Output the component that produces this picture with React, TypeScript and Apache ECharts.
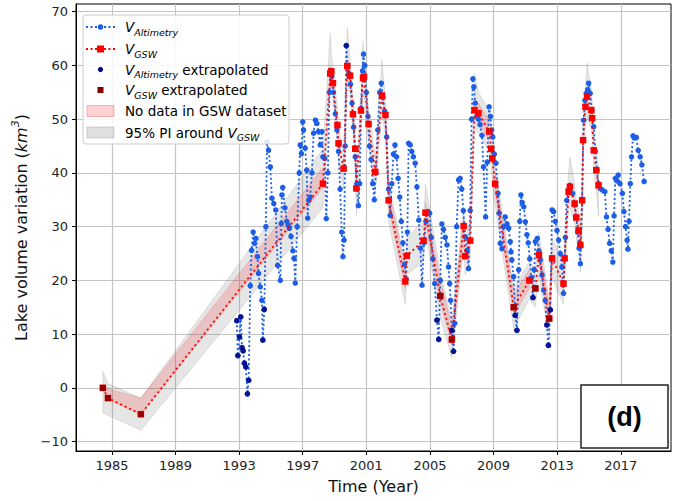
import React, { useEffect, useRef } from "react";
import * as echarts from "echarts";

// ---- Axis ticks ----
const xTicks = [1985, 1989, 1993, 1997, 2001, 2005, 2009, 2013, 2017];
const yTicks = [-10, 0, 10, 20, 30, 40, 50, 60, 70];

// ---- V_Altimetry (blue) ----
const altYears = [
  1992.85, 1992.92, 1993.02, 1993.1, 1993.18, 1993.25, 1993.33, 1993.42, 1993.52, 1993.6,
  1993.7, 1993.78, 1993.88, 1993.97, 1994.05, 1994.15, 1994.22, 1994.33, 1994.43, 1994.49,
  1994.58, 1994.68, 1994.75, 1994.85, 1994.96, 1995.06, 1995.18, 1995.3, 1995.42, 1995.59,
  1995.65, 1995.69, 1995.74, 1995.88, 1996.0, 1996.08, 1996.16, 1996.26, 1996.38, 1996.45,
  1996.53, 1996.65, 1996.78, 1996.84, 1996.92, 1997.0, 1997.05, 1997.15, 1997.25, 1997.31,
  1997.38, 1997.46, 1997.58, 1997.68, 1997.8, 1997.89, 1997.99, 1998.1, 1998.21, 1998.27,
  1998.38, 1998.48, 1998.58, 1998.68, 1998.75, 1998.83, 1998.93, 1999.05, 1999.15, 1999.25,
  1999.35, 1999.45, 1999.53, 1999.6, 1999.67, 1999.74, 1999.82, 1999.9, 2000.0, 2000.1,
  2000.2, 2000.3, 2000.4, 2000.5, 2000.58, 2000.67, 2000.76, 2000.82, 2000.9, 2001.0,
  2001.1, 2001.2, 2001.3, 2001.4, 2001.5, 2001.6, 2001.72, 2001.84, 2001.94, 2002.04,
  2002.15, 2002.28, 2002.4, 2002.5, 2002.6, 2002.7, 2002.8, 2002.9, 2003.0, 2003.1,
  2003.2, 2003.3, 2003.4, 2003.5, 2003.58, 2003.66, 2003.76, 2003.86, 2003.96, 2004.07,
  2004.18, 2004.3, 2004.4, 2004.5, 2004.62, 2004.75, 2004.88, 2004.98, 2005.08, 2005.18,
  2005.3, 2005.44, 2005.55, 2005.65, 2005.75, 2005.85, 2005.96, 2006.07, 2006.17, 2006.24,
  2006.3, 2006.38, 2006.48, 2006.56, 2006.68, 2006.8, 2006.9, 2007.0, 2007.1, 2007.22,
  2007.33, 2007.43, 2007.53, 2007.62, 2007.7, 2007.76, 2007.85, 2007.95, 2008.05, 2008.15,
  2008.27, 2008.37, 2008.5, 2008.6, 2008.72, 2008.8, 2008.88, 2008.95, 2009.05, 2009.15,
  2009.28, 2009.35, 2009.42, 2009.53, 2009.63, 2009.73, 2009.85, 2009.95, 2010.05, 2010.1,
  2010.15, 2010.26, 2010.36, 2010.47, 2010.58, 2010.65, 2010.72, 2010.8, 2010.9, 2011.0,
  2011.1, 2011.18, 2011.28, 2011.38, 2011.48, 2011.56, 2011.63, 2011.75, 2011.85, 2011.94,
  2012.05, 2012.15, 2012.25, 2012.35, 2012.45, 2012.57, 2012.68, 2012.78, 2012.88, 2012.99,
  2013.09, 2013.2, 2013.3, 2013.4, 2013.52, 2013.6, 2013.72, 2013.8, 2013.97, 2014.1,
  2014.2, 2014.3, 2014.38, 2014.46, 2014.57, 2014.66, 2014.75, 2014.83, 2014.92, 2014.98,
  2015.08, 2015.18, 2015.3, 2015.4, 2015.5, 2015.6, 2015.7, 2015.85, 2016.0, 2016.1,
  2016.2, 2016.3, 2016.4, 2016.5, 2016.58, 2016.66, 2016.76, 2016.84, 2016.95, 2017.1,
  2017.2, 2017.3, 2017.4, 2017.45, 2017.52, 2017.6, 2017.68, 2017.77, 2017.85, 2017.98,
  2018.1, 2018.22, 2018.33, 2018.47,
];
const altValues = [
  12.5, 6.0, 9.5, 13.2, 7.5, 6.9, 4.6, 3.9, -1.1, 1.4,
  19.0, 25.6, 29.0, 26.9, 27.8, 24.4, 21.3, 18.8, 16.3, 8.9,
  14.6, 30.0, 45.8, 44.2, 41.1, 35.3, 34.3, 33.1, 22.8, 20.0,
  30.6, 35.9, 37.3, 33.5, 31.0, 30.3, 29.7, 28.2, 25.5, 24.1,
  19.5, 30.0, 40.0, 45.2, 43.6, 49.5, 48.0, 44.6, 40.5, 31.6,
  34.9, 35.5, 40.0, 47.4, 49.8, 49.2, 47.7, 45.2, 47.7, 43.0,
  42.7, 31.5, 40.0, 55.0, 59.1, 58.0, 55.0, 51.0, 48.0, 44.0,
  37.0, 29.0, 24.4, 27.5, 45.0, 63.7, 60.0, 58.5, 56.5, 53.0,
  48.5, 43.0, 38.0, 33.9, 38.0, 52.0, 59.0, 62.1, 60.0, 55.0,
  50.5, 45.0, 42.5, 38.0, 35.0, 40.0, 48.0, 55.0, 56.7, 54.0,
  51.5, 46.7, 37.0, 32.1, 38.0, 43.5, 45.2, 43.0, 39.0, 35.5,
  31.0, 27.0, 23.0, 20.3, 29.0, 45.5, 45.2, 44.0, 43.0, 41.8,
  37.4, 31.2, 26.0, 19.1, 27.0, 31.0, 32.8, 32.5, 28.0, 24.0,
  19.4, 12.6, 9.0, 20.0, 30.5, 29.5, 28.0, 26.6, 22.5, 19.4,
  16.3, 10.7, 6.8, 12.0, 30.0, 38.7, 39.0, 37.0, 33.0, 28.1,
  25.6, 22.2, 33.0, 50.0, 57.5, 56.0, 53.0, 50.5, 50.0, 49.0,
  47.0, 41.1, 31.8, 42.0, 52.3, 50.5, 48.0, 46.7, 43.5, 41.8,
  36.2, 32.5, 26.9, 25.9, 30.0, 31.8, 30.5, 29.7, 27.2, 25.3,
  23.8, 20.7, 13.5, 10.7, 22.0, 31.0, 35.9, 34.5, 33.7, 30.9,
  28.5, 27.0, 24.0, 20.5, 16.8, 22.0, 27.2, 27.8, 25.5, 23.8,
  21.0, 18.2, 16.3, 11.7, 7.9, 14.5, 33.1, 32.8, 31.0, 29.3,
  27.5, 25.0, 22.5, 17.6, 28.0, 34.9, 36.8, 37.7, 36.2, 34.0,
  31.8, 29.0, 26.0, 23.1, 34.9, 49.8, 53.5, 54.8, 55.5, 56.7,
  54.8, 51.5, 48.6, 44.0, 40.5, 38.0, 37.1, 36.8, 36.5, 31.8,
  29.5, 26.9, 25.5, 23.4, 32.0, 39.0, 38.5, 39.6, 38.0, 36.2,
  32.8, 30.0, 27.5, 25.8, 31.0, 38.0, 43.0, 46.9, 46.5, 46.6,
  44.2, 43.0, 41.5, 38.4,
];

// ---- V_Altimetry extrapolated (navy) ----
const altExtYears = [
  1992.85, 1992.92, 1993.02, 1993.1, 1993.18, 1993.25, 1993.33, 1993.42, 1993.52, 1993.6,
  1994.49, 1994.58, 1999.74, 2005.44, 2005.55, 2006.38, 2006.48, 2010.36, 2010.47, 2011.48,
  2012.35, 2012.45, 2012.57,
];
const altExtValues = [
  12.5, 6.0, 9.5, 13.2, 7.5, 6.9, 4.6, 3.9, -1.1, 1.4,
  8.9, 14.6, 63.7, 12.6, 9.0, 10.7, 6.8, 13.5, 10.7, 16.8,
  11.7, 7.9, 14.5,
];

// ---- V_GSW (red) ----
const gswYears = [
  1984.43, 1984.75, 1986.82, 1998.27, 1998.73, 1998.8, 1998.9, 1999.18, 1999.25, 1999.57,
  1999.8, 1999.98, 2000.16, 2000.3, 2000.37, 2000.66, 2000.79, 2000.85, 2001.14, 2001.56,
  2001.98, 2002.2, 2002.4, 2003.45, 2003.55, 2004.6, 2004.72, 2005.65, 2006.38, 2007.12,
  2007.22, 2007.53, 2007.8, 2008.05, 2008.73, 2008.85, 2008.92, 2009.1, 2010.27, 2011.25,
  2011.63, 2011.85, 2012.5, 2012.68, 2013.4, 2013.47, 2013.72, 2013.8, 2014.1, 2014.2,
  2014.35, 2014.46, 2014.57, 2014.63, 2014.78, 2014.88, 2015.15, 2015.2, 2015.3, 2015.46,
  2015.6,
];
const gswValues = [
  0.0, -1.9, -4.9, 38.0, 58.5, 58.9, 56.7, 48.9, 45.5, 40.8,
  59.9, 58.1, 50.9, 44.5, 37.1, 51.6, 57.7, 57.9, 49.1, 40.2,
  54.4, 50.8, 34.9, 19.8, 24.6, 27.4, 32.6, 17.1, 9.0, 30.1,
  24.5, 27.4, 51.7, 51.1, 47.7, 44.5, 42.7, 38.0, 15.0, 20.0,
  18.5, 24.7, 12.9, 24.1, 19.4, 24.1, 36.5, 37.4, 34.3, 31.7,
  29.3, 26.6, 34.9, 46.1, 52.3, 54.2, 51.7, 50.2, 44.2, 40.5,
  37.7,
];

// ---- 95% PI around V_GSW (grey band), at the GSW dates ----
const piLow = [
  -4.7, -5.1, -7.9, 33.5, 55.0, 56.0, 53.5, 45.5, 42.0, 37.0,
  56.5, 55.0, 47.5, 41.0, 32.0, 48.0, 54.0, 54.5, 45.5, 36.5,
  51.0, 47.0, 31.0, 15.5, 21.0, 23.5, 29.0, 13.0, 5.5, 26.5,
  21.0, 24.0, 48.0, 47.5, 44.0, 41.0, 39.0, 34.0, 11.0, 16.5,
  15.0, 21.0, 9.0, 20.5, 15.5, 20.5, 33.0, 33.5, 30.5, 28.0,
  25.5, 21.5, 31.0, 42.5, 48.5, 50.5, 48.0, 46.5, 40.5, 36.5,
  32.0,
];
const piHigh = [
  3.1, 0.8, -1.9, 44.5, 66.0, 62.0, 60.0, 52.0, 48.5, 44.0,
  67.0, 61.0, 54.0, 47.5, 40.0, 55.0, 64.5, 61.0, 52.0, 43.0,
  61.0, 54.0, 38.5, 23.0, 28.0, 31.0, 38.0, 21.5, 12.5, 33.5,
  28.0, 31.0, 58.5, 55.0, 51.5, 48.0, 46.5, 41.5, 18.5, 23.5,
  22.0, 29.0, 16.5, 28.0, 23.0, 28.0, 40.0, 43.0, 38.0, 35.0,
  33.0, 30.0, 38.5, 49.5, 56.0, 60.5, 55.5, 53.5, 47.5, 44.0,
  41.0,
];

// ---- V_GSW extrapolated (dark red) ----
const gswExtYears = [1984.43, 1984.75, 1986.82, 2005.65, 2006.38, 2010.27, 2011.63, 2012.5];
const gswExtValues = [0.0, -1.9, -4.9, 17.1, 9.0, 15.0, 18.5, 12.9];

// ---- No data in GSW dataset (pink band segments) ----
const noDataYears = [
  [1984.43, 1984.75, 1986.82, 1998.27],
  [2002.4, 2003.45],
  [2004.72, 2005.65, 2006.38, 2007.12],
  [2008.05, 2008.73],
  [2009.1, 2010.27, 2011.25],
  [2011.85, 2012.5, 2012.68],
];
const noDataLow = [
  [-0.3, -2.2, -5.0, 37.3],
  [33.5, 18.5],
  [31.0, 16.0, 8.0, 28.5],
  [49.5, 46.0],
  [36.5, 13.5, 18.5],
  [23.0, 11.5, 22.5],
];
const noDataHigh = [
  [0.6, -0.2, -1.9, 41.0],
  [37.0, 22.0],
  [34.5, 20.0, 11.5, 32.0],
  [53.0, 49.5],
  [40.0, 17.5, 22.0],
  [27.0, 15.0, 26.0],
];

const BLUE = "#1c5ee6";
const NAVY = "#000080";
const RED = "#ff0000";
const DARKRED = "#800000";
const FONT = "DejaVu Sans";

const zip = (xs: number[], ys: number[]) => xs.map((x, i) => [x, ys[i]]);

export default function App() {
  const ref = useRef<HTMLDivElement>(null);

  useEffect(() => {
    if (!ref.current) return;
    const chart = echarts.init(ref.current, undefined, { renderer: "svg" });

    const greyBand = {
      type: "custom",
      coordinateSystem: "cartesian2d",
      silent: true,
      z: 1,
      clip: true,
      encode: { x: 0, y: [1, 2] },
      data: gswYears.map((x, i) => [x, piLow[i], piHigh[i]]),
      renderItem: (params: any, api: any) => {
        if (params.dataIndex !== 0) return null;
        const pts: number[][] = [];
        for (let i = 0; i < gswYears.length; i++) pts.push(api.coord([gswYears[i], piHigh[i]]));
        for (let i = gswYears.length - 1; i >= 0; i--) pts.push(api.coord([gswYears[i], piLow[i]]));
        return {
          type: "polygon",
          shape: { points: pts },
          style: { fill: "rgba(128,128,128,0.2)", stroke: "rgba(128,128,128,0.25)", lineWidth: 0.8 },
        };
      },
    };

    const pinkBand = {
      type: "custom",
      coordinateSystem: "cartesian2d",
      silent: true,
      z: 2,
      clip: true,
      encode: { x: 0, y: [1, 2] },
      data: noDataYears.map((seg, k) => [seg[0], noDataLow[k][0], noDataHigh[k][0]]),
      renderItem: (params: any, api: any) => {
        const k = params.dataIndex;
        const xs = noDataYears[k];
        const pts: number[][] = [];
        for (let i = 0; i < xs.length; i++) pts.push(api.coord([xs[i], noDataHigh[k][i]]));
        for (let i = xs.length - 1; i >= 0; i--) pts.push(api.coord([xs[i], noDataLow[k][i]]));
        return {
          type: "polygon",
          shape: { points: pts },
          style: { fill: "rgba(255,0,0,0.15)", stroke: "rgba(255,0,0,0.2)", lineWidth: 0.8 },
        };
      },
    };

    const legendX = 83;
    const legendY = 15;
    const rowY = [27, 49, 69.5, 90, 111, 132.5];
    const txtX = 125;
    const legFont = 13.5;
    const rich = {
      v: { fontFamily: FONT, fontSize: legFont, fontStyle: "italic", fill: "#000", lineHeight: 20, verticalAlign: "middle" },
      s: { fontFamily: FONT, fontSize: 9.5, fontStyle: "italic", fill: "#000", lineHeight: 10, verticalAlign: "bottom" },
      n: { fontFamily: FONT, fontSize: legFont, fill: "#000", lineHeight: 20, verticalAlign: "middle" },
    };
    const legText = (y: number, text: string) => ({
      type: "text",
      x: txtX,
      y,
      z: 101,
      style: { text, rich, fill: "#000", verticalAlign: "middle", align: "left", font: `${legFont}px ${FONT}` },
    });
    const dotLine = (y: number, color: string) => ({
      type: "line",
      z: 101,
      shape: { x1: 86, y1: y, x2: 115, y2: y },
      style: { stroke: color, lineWidth: 2, lineDash: [2, 2.5] },
    });

    const graphic: any[] = [
      {
        type: "rect",
        z: 100,
        shape: { x: legendX, y: legendY, width: 206, height: 129, r: 3 },
        style: { fill: "rgba(255,255,255,0.85)", stroke: "#cccccc", lineWidth: 1 },
      },
      dotLine(rowY[0], BLUE),
      { type: "circle", z: 102, shape: { cx: 100.5, cy: rowY[0], r: 2.8 }, style: { fill: BLUE } },
      legText(rowY[0], "{v|V}{s|Altimetry}"),
      dotLine(rowY[1], RED),
      { type: "rect", z: 102, shape: { x: 97, y: rowY[1] - 3.5, width: 7, height: 7 }, style: { fill: RED } },
      legText(rowY[1], "{v|V}{s|GSW}"),
      { type: "circle", z: 102, shape: { cx: 100.5, cy: rowY[2], r: 2.6 }, style: { fill: NAVY } },
      legText(rowY[2], "{v|V}{s|Altimetry}{n| extrapolated}"),
      { type: "rect", z: 102, shape: { x: 97.5, y: rowY[3] - 3, width: 6, height: 6 }, style: { fill: DARKRED } },
      legText(rowY[3], "{v|V}{s|GSW}{n| extrapolated}"),
      {
        type: "rect",
        z: 101,
        shape: { x: 87, y: rowY[4] - 5.5, width: 27, height: 11 },
        style: { fill: "rgba(255,0,0,0.18)", stroke: "rgba(255,0,0,0.25)", lineWidth: 1 },
      },
      legText(rowY[4], "{n|No data in GSW dataset}"),
      {
        type: "rect",
        z: 101,
        shape: { x: 87, y: rowY[5] - 5.5, width: 27, height: 11 },
        style: { fill: "rgba(128,128,128,0.25)", stroke: "rgba(128,128,128,0.3)", lineWidth: 1 },
      },
      legText(rowY[5], "{n|95% PI around }{v|V}{s|GSW}"),
      // panel label box
      {
        type: "rect",
        z: 100,
        shape: { x: 581, y: 385, width: 87, height: 63 },
        style: { fill: "#ffffff", stroke: "#222", lineWidth: 1.5 },
      },
      {
        type: "text",
        z: 101,
        x: 624.5,
        y: 417,
        style: {
          text: "(d)",
          fill: "#000",
          align: "center",
          verticalAlign: "middle",
          font: `bold 27px "Liberation Sans"`,
        },
      },
    ];

    const option: any = {
      animation: false,
      backgroundColor: "#ffffff",
      grid: { left: 76, right: 18, top: 4, bottom: 50, show: true, borderColor: "#000", borderWidth: 1, backgroundColor: "transparent" },
      xAxis: {
        type: "value",
        min: 1982.74,
        max: 2020.16,
        name: "Time (Year)",
        nameLocation: "middle",
        nameGap: 27,
        nameTextStyle: { fontFamily: FONT, fontSize: 16, color: "#111" },
        axisLine: { show: true, onZero: false, lineStyle: { color: "#000", width: 1 } },
        axisTick: { show: true, length: 4, customValues: xTicks, lineStyle: { color: "#000" } },
        axisLabel: { customValues: xTicks, fontFamily: FONT, fontSize: 13, color: "#222", margin: 8, formatter: (v: number) => String(v) },
        splitLine: { show: true, lineStyle: { color: "#c4c4c4", width: 1.2 } },
      },
      yAxis: {
        type: "value",
        min: -11.75,
        max: 71.43,
        name: "{n|Lake volume variation (}{i|km}{p|3}{n|)}",
        nameLocation: "middle",
        nameGap: 44,
        nameRotate: 90,
        nameTextStyle: {
          rich: {
            n: { fontFamily: FONT, fontSize: 16, color: "#111", lineHeight: 22, verticalAlign: "middle" },
            i: { fontFamily: FONT, fontSize: 16, fontStyle: "italic", color: "#111", lineHeight: 22, verticalAlign: "middle" },
            p: { fontFamily: FONT, fontSize: 11, fontStyle: "italic", color: "#111", lineHeight: 12, verticalAlign: "top" },
          },
        },
        axisLine: { show: true, onZero: false, lineStyle: { color: "#000", width: 1 } },
        axisTick: { show: true, length: 4, customValues: yTicks, lineStyle: { color: "#000" } },
        axisLabel: {
          customValues: yTicks,
          fontFamily: FONT,
          fontSize: 13,
          color: "#222",
          margin: 8,
          formatter: (v: number) => (v < 0 ? "\u2212" + Math.abs(v) : String(v)),
        },
        splitLine: { show: true, lineStyle: { color: "#c4c4c4", width: 1.2 } },
      },
      series: [
        greyBand,
        pinkBand,
        {
          name: "V_Altimetry",
          type: "line",
          z: 3,
          data: zip(altYears, altValues),
          symbol: "circle",
          symbolSize: 5.5,
          showSymbol: true,
          itemStyle: { color: BLUE },
          lineStyle: { color: BLUE, width: 1.8, type: [2, 2.5] },
          silent: true,
        },
        {
          name: "V_GSW",
          type: "line",
          z: 4,
          data: zip(gswYears, gswValues),
          symbol: "rect",
          symbolSize: 6.5,
          showSymbol: true,
          itemStyle: { color: RED },
          lineStyle: { color: RED, width: 1.8, type: [2, 3] },
          silent: true,
        },
        {
          name: "V_Altimetry extrapolated",
          type: "scatter",
          z: 5,
          data: zip(altExtYears, altExtValues),
          symbol: "circle",
          symbolSize: 5.5,
          itemStyle: { color: NAVY },
          silent: true,
        },
        {
          name: "V_GSW extrapolated",
          type: "scatter",
          z: 6,
          data: zip(gswExtYears, gswExtValues),
          symbol: "rect",
          symbolSize: 6,
          itemStyle: { color: DARKRED },
          silent: true,
        },
      ],
      graphic,
    };

    chart.setOption(option);
    return () => chart.dispose();
  }, []);

  return (
    <div
      ref={ref}
      style={{ position: "fixed", left: 0, top: 0, width: 689, height: 501, background: "#fff" }}
    />
  );
}
